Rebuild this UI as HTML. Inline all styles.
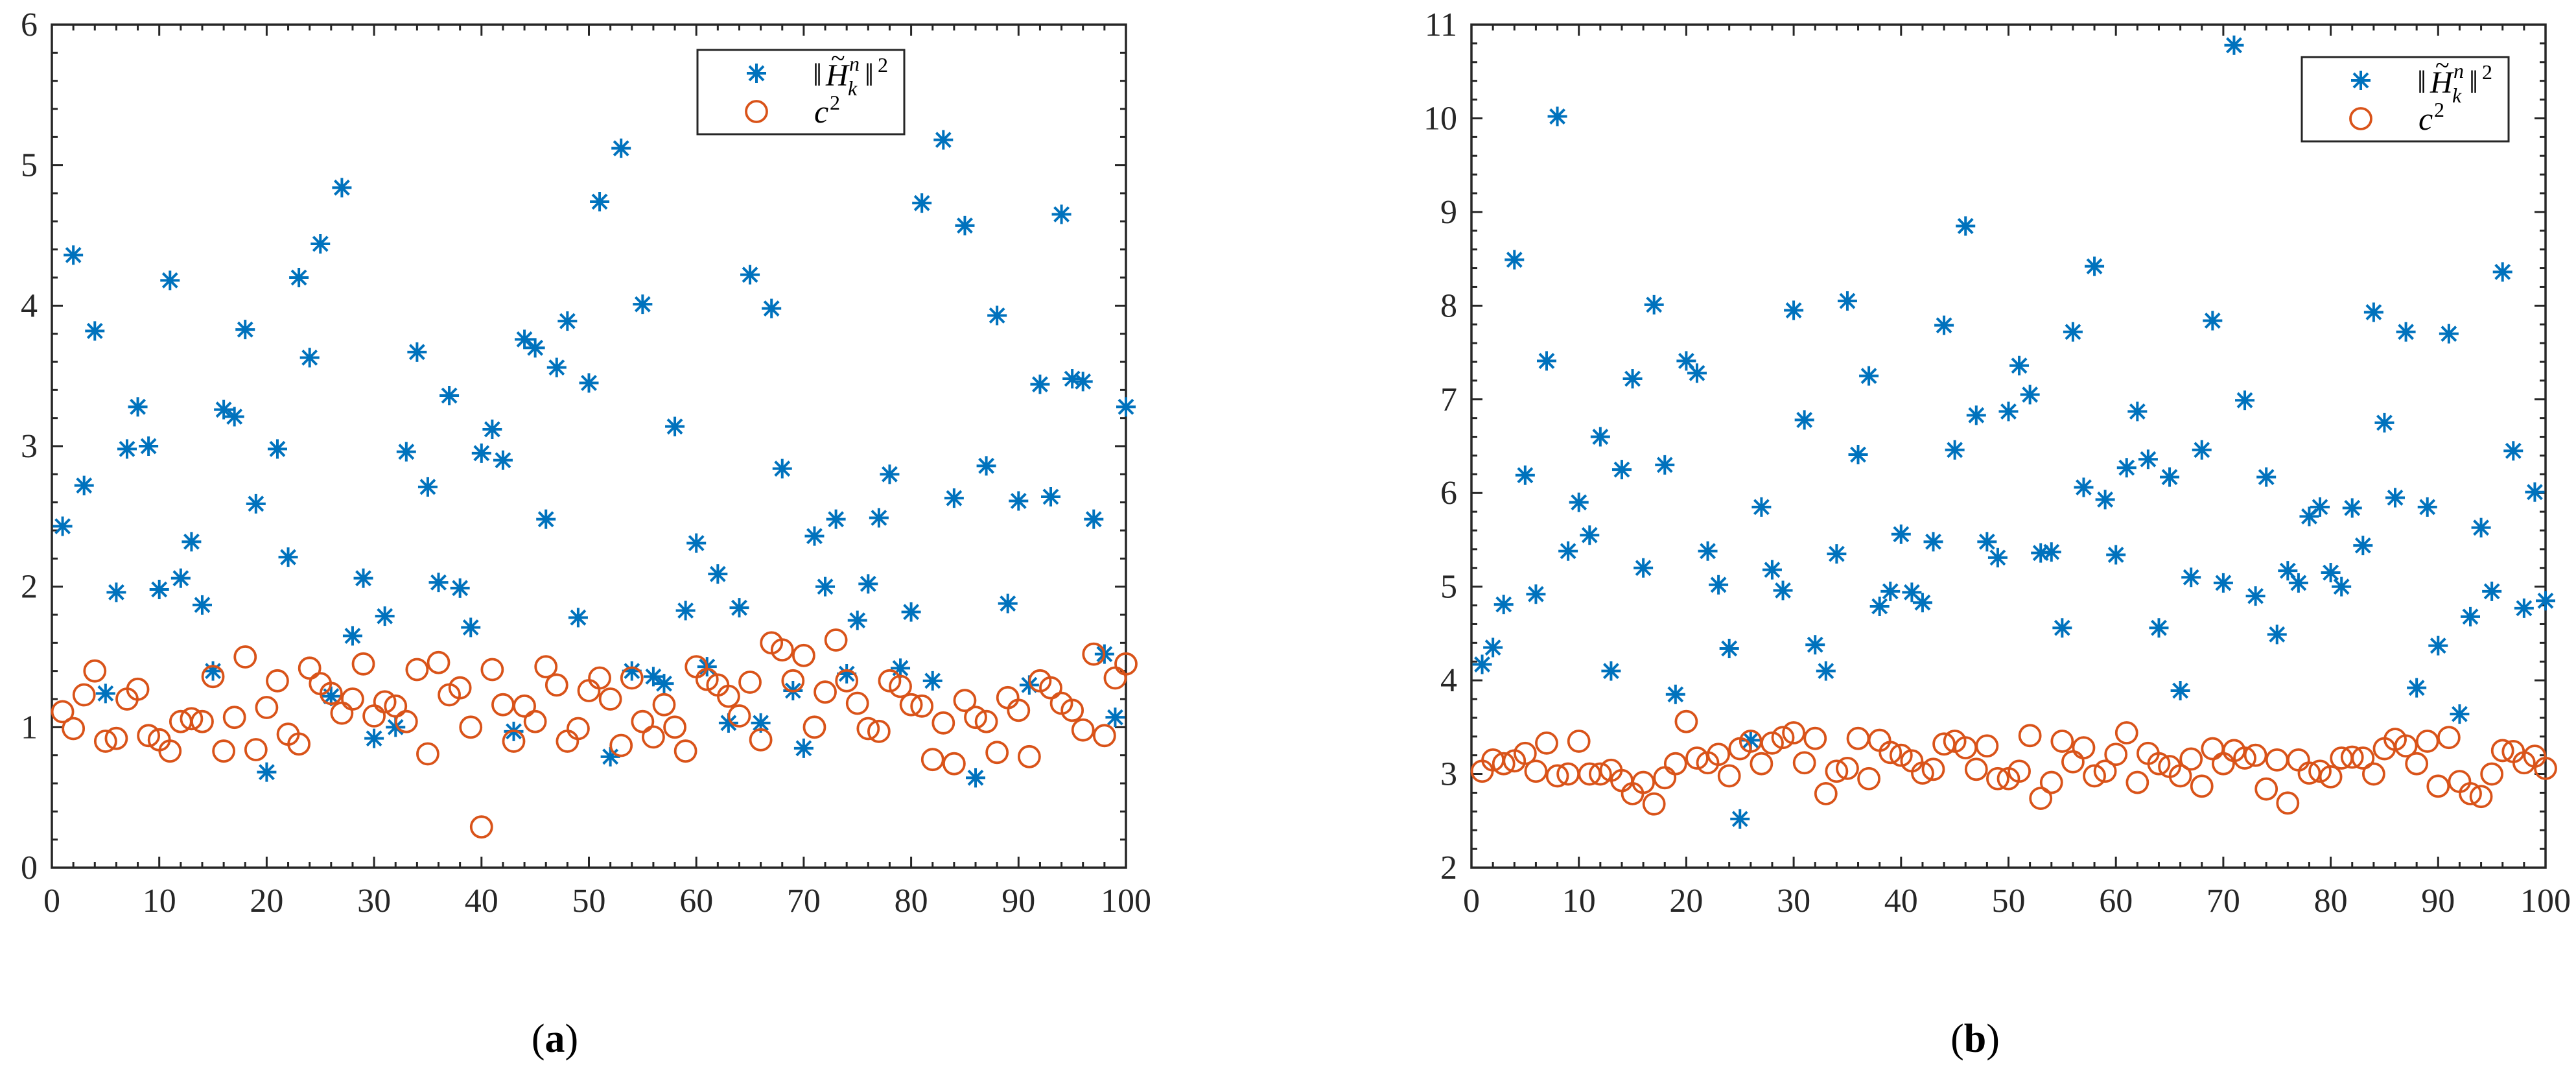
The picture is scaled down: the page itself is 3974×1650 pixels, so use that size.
<!DOCTYPE html>
<html><head><meta charset="utf-8"><style>
html,body{margin:0;padding:0;background:#fff;}
svg{display:block;}
svg text{font-family:"Liberation Serif","DejaVu Serif",serif;}
</style></head><body>
<svg id="fig" width="3974" height="1650" viewBox="0 0 3974 1650" xmlns="http://www.w3.org/2000/svg" font-family="Liberation Serif, serif">
</svg>
<script>
const xCategories = Array.from({length:100},(_,i)=>i+1);
const aStars = [2.43,4.36,2.72,3.82,1.24,1.96,2.98,3.28,3.0,1.98,4.18,2.06,2.32,1.87,1.40,3.26,3.21,3.83,2.59,0.68,2.98,2.21,4.2,3.63,4.44,1.22,4.84,1.65,2.06,0.92,1.79,1.0,2.96,3.67,2.71,2.03,3.36,1.99,1.71,2.95,3.12,2.9,0.97,3.76,3.7,2.48,3.56,3.89,1.78,3.45,4.74,0.79,5.12,1.40,4.01,1.36,1.31,3.14,1.83,2.31,1.43,2.09,1.03,1.85,4.22,1.03,3.98,2.84,1.26,0.85,2.36,2.0,2.48,1.38,1.76,2.02,2.49,2.8,1.42,1.82,4.73,1.33,5.18,2.63,4.57,0.64,2.86,3.93,1.88,2.61,1.30,3.44,2.64,4.65,3.48,3.46,2.48,1.52,1.07,3.28];
const aCircles = [1.11,0.99,1.23,1.40,0.9,0.92,1.2,1.27,0.94,0.91,0.83,1.04,1.06,1.04,1.36,0.83,1.07,1.5,0.84,1.14,1.33,0.95,0.88,1.42,1.31,1.24,1.1,1.2,1.45,1.08,1.18,1.15,1.04,1.41,0.81,1.46,1.23,1.28,1.0,0.29,1.41,1.16,0.9,1.15,1.04,1.43,1.3,0.9,0.99,1.26,1.35,1.2,0.87,1.35,1.04,0.93,1.16,1.0,0.83,1.43,1.34,1.3,1.22,1.08,1.32,0.91,1.6,1.55,1.33,1.51,1.0,1.25,1.62,1.33,1.17,0.99,0.97,1.33,1.29,1.16,1.15,0.77,1.03,0.74,1.19,1.07,1.04,0.82,1.21,1.12,0.79,1.33,1.28,1.17,1.12,0.98,1.52,0.94,1.35,1.45];
const bStars = [4.17,4.35,4.81,8.49,6.19,4.92,7.41,10.02,5.38,5.90,5.55,6.6,4.1,6.25,7.22,5.2,8.01,6.3,3.85,7.41,7.28,5.38,5.02,4.34,2.52,3.36,5.85,5.18,4.96,7.95,6.78,4.38,4.1,5.35,8.05,6.41,7.25,4.79,4.95,5.56,4.94,4.83,5.48,7.79,6.46,8.85,6.83,5.48,5.31,6.87,7.36,7.05,5.36,5.37,4.56,7.72,6.06,8.42,5.93,5.34,6.27,6.87,6.36,4.56,6.17,3.89,5.10,6.46,7.84,5.04,10.78,6.99,4.9,6.17,4.49,5.17,5.04,5.75,5.85,5.15,5.0,5.84,5.44,7.93,6.75,5.95,7.72,3.92,5.85,4.37,7.7,3.64,4.68,5.63,4.95,8.36,6.45,4.77,6.01,4.85];
const bCircles = [3.03,3.15,3.11,3.14,3.22,3.03,3.33,2.98,3.0,3.35,3.0,3.0,3.04,2.93,2.79,2.91,2.68,2.96,3.11,3.56,3.17,3.12,3.21,2.98,3.27,3.35,3.11,3.33,3.39,3.44,3.12,3.38,2.79,3.03,3.06,3.38,2.95,3.36,3.23,3.2,3.14,3.01,3.05,3.32,3.35,3.28,3.05,3.3,2.95,2.95,3.03,3.41,2.74,2.91,3.35,3.13,3.28,2.98,3.03,3.21,3.44,2.91,3.22,3.11,3.08,2.98,3.16,2.87,3.27,3.11,3.25,3.17,3.2,2.84,3.15,2.69,3.15,3.01,3.03,2.97,3.17,3.18,3.17,3.0,3.27,3.37,3.3,3.11,3.35,2.87,3.39,2.92,2.79,2.76,3.0,3.25,3.24,3.12,3.19,3.06];
const xTickLabels = [0,10,20,30,40,50,60,70,80,90,100];
const aYTickLabels = [0,1,2,3,4,5,6];
const bYTickLabels = [2,3,4,5,6,7,8,9,10,11];

const NS="http://www.w3.org/2000/svg";
const svg=document.getElementById('fig');
const FONT='Liberation Serif, DejaVu Serif, serif';
function mk(tag,attrs,parent){const e=document.createElementNS(NS,tag);for(const k in attrs)e.setAttribute(k,attrs[k]);if(tag==='text')e.setAttribute('font-family',FONT);(parent||svg).appendChild(e);return e;}
const BLUE="#0072BD",ORANGE="#D95319",AX="#262626";

function drawStar(g,cx,cy){
  const s=15,d=11;
  const p=mk('path',{d:`M${cx-s} ${cy}H${cx+s}M${cx} ${cy-s}V${cy+s}M${cx-d} ${cy-d}L${cx+d} ${cy+d}M${cx-d} ${cy+d}L${cx+d} ${cy-d}`,stroke:BLUE,'stroke-width':4,fill:'none'},g);
  
  
}
function drawCircle(g,cx,cy){
  const c=mk('circle',{cx:cx,cy:cy,r:16,stroke:ORANGE,'stroke-width':3.8,fill:'none'},g);
  
  
}
function txt(parent,x,y,size,content,extra,name){
  const t=mk('text',Object.assign({x:x,y:y,'font-size':size,fill:'#000'},extra||{}),parent);
  
  
  t.textContent=content;
  return t;
}

function panel(name,L,R,T,B,ymin,ymax,yLabels,stars,circles,legX,legY,cap,capX){
  const g=mk('g',{});
  
  
  const xs=v=>L+(v-0)/100*(R-L);
  const ys=v=>B-(v-ymin)/(ymax-ymin)*(B-T);
  const tk=mk('g',{stroke:AX,'stroke-width':3},g);
  
  
  for(let v=0;v<=100;v+=2){
    const major=v%10===0,len=major?17:9,x=xs(v);
    mk('line',{x1:x,y1:B,x2:x,y2:B-len},tk);
    mk('line',{x1:x,y1:T,x2:x,y2:T+len},tk);
  }
  for(let i=0;i<=(ymax-ymin)*5;i++){
    const v=ymin+i*0.2,major=i%5===0,len=major?17:9,y=ys(v);
    mk('line',{x1:L,y1:y,x2:L+len,y2:y},tk);
    mk('line',{x1:R,y1:y,x2:R-len,y2:y},tk);
  }
  const fr=mk('rect',{x:L,y:T,width:R-L,height:B-T,fill:'none',stroke:AX,'stroke-width':3.5},g);
  
  
  xTickLabels.forEach(v=>{
    const t=mk('text',{x:xs(v),y:B+68,'font-size':52,'text-anchor':'middle',fill:AX},g);
    
    
    t.textContent=v;
  });
  yLabels.forEach(v=>{
    const t=mk('text',{x:L-22,y:ys(v)+17,'font-size':52,'text-anchor':'end',fill:AX},g);
    
    
    t.textContent=v;
  });
  const sg=mk('g',{},g);
  
  
  const cg=mk('g',{},g);
  
  
  circles.forEach((v,i)=>drawCircle(cg,xs(xCategories[i]),ys(v)));
  stars.forEach((v,i)=>drawStar(sg,xs(xCategories[i]),ys(v)));
  const lg=mk('g',{},g);
  
  
  mk('rect',{x:legX,y:legY,width:319,height:130,fill:'#fff',stroke:AX,'stroke-width':3},lg);
  drawStar(lg,legX+91,legY+36);
  drawCircle(lg,legX+91,legY+95);
  const x0=legX+178;
  txt(lg,x0,legY+55,50,'‖',{},'legend-norm-bar-left');
  txt(lg,x0+20,legY+55,48,'H',{'font-style':'italic'},'legend-H');
  txt(lg,x0+28,legY+26,40,'~',{},'legend-tilde');
  txt(lg,x0+56,legY+32,32,'n',{'font-style':'italic'},'legend-superscript-n');
  txt(lg,x0+54,legY+70,32,'k',{'font-style':'italic'},'legend-subscript-k');
  txt(lg,x0+80,legY+55,50,'‖',{},'legend-norm-bar-right');
  txt(lg,x0+100,legY+34,32,'2',{},'legend-superscript-2');
  txt(lg,x0+2,legY+112,50,'c',{'font-style':'italic'},'legend-c');
  txt(lg,x0+26,legY+92,32,'2',{},'legend-c-superscript-2');
  const c=mk('text',{x:capX,y:1622,'font-size':62,'text-anchor':'middle',fill:'#000'},g);
  
  
  c.innerHTML='(<tspan font-weight="bold">'+cap+'</tspan>)';
}
panel('panel-a',80,1737,38,1338,0,6,aYTickLabels,aStars,aCircles,1076,77,'a',856);
panel('panel-b',2270,3927,38,1338,2,11,bYTickLabels,bStars,bCircles,3551,88,'b',3047);
</script>
</body></html>
